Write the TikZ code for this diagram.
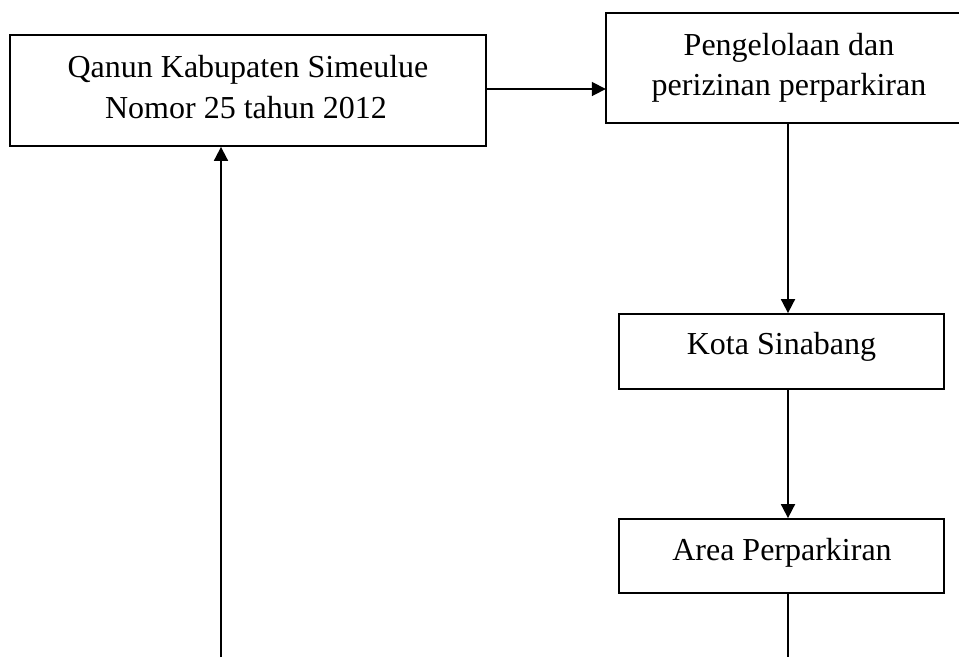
\documentclass[tikz,border=0pt]{standalone}
\usepackage{fontspec}
\setmainfont{Liberation Serif}
\usetikzlibrary{arrows.meta}
\begin{document}
\begin{tikzpicture}[x=1pt,y=-1pt,
  boxnode/.style={draw=black, line width=1.8pt, rectangle, inner sep=0pt},
  openbox/.style={draw=none, rectangle, inner sep=0pt},
  txt/.style={anchor=base, inner sep=0pt, font=\fontsize{32}{40}\selectfont},
  conn/.style={line width=1.8pt},
  arr/.style={conn, -{Triangle[length=14pt,width=14pt]}}]
\useasboundingbox (0,0) rectangle (959,657);
\fill[white] (0,0) rectangle (959,657);
\node[openbox, minimum width=353pt, minimum height=110pt] (kelola) at (782.5,68) {};
\draw[line width=1.8pt] (kelola.north east) -- (kelola.north west) -- (kelola.south west) -- (kelola.south east);
\node[boxnode, minimum width=476pt, minimum height=111pt] (qanun) at (248,90.5) {};
\node[boxnode, minimum width=325pt, minimum height=75pt] (kota) at (781.5,351.5) {};
\node[boxnode, minimum width=325pt, minimum height=74pt] (area) at (781.5,556) {};
\node[txt] (q1) at (248,77) {Qanun Kabupaten Simeulue};
\node[txt] (q2) at (246,118) {Nomor 25 tahun 2012};
\node[txt] (k1) at (789,55) {Pengelolaan dan};
\node[txt] (k2) at (789,95) {perizinan perparkiran};
\node[txt] (s1) at (781.5,354) {Kota Sinabang};
\node[txt] (a1) at (782,560) {Area Perparkiran};
\coordinate (bl) at (221,657);
\coordinate (br) at (788,657);
\draw[arr] (qanun.east |- 0,89) -- (kelola.west |- 0,89);
\draw[arr] (kelola.south -| br) -- (kota.north -| br);
\draw[arr] (kota.south -| br) -- (area.north -| br);
\draw[conn, line width=1.3pt] (area.south -| br) -- (br);
\draw[arr] (bl) -- (qanun.south -| bl);
\end{tikzpicture}
\end{document}
